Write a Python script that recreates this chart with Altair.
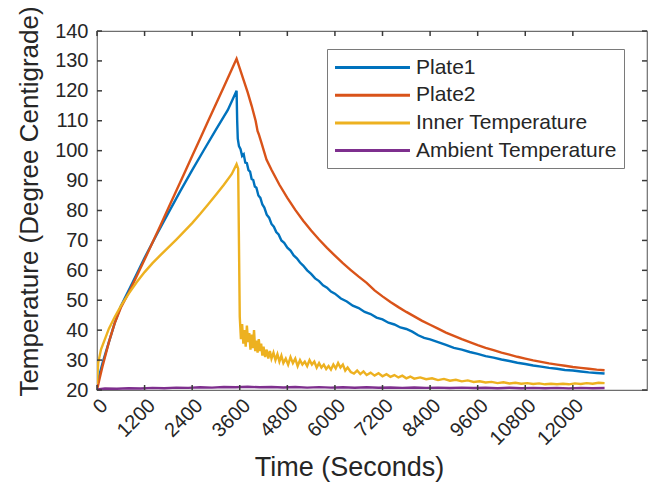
import altair as alt
import pandas as pd

# ---- series names and colours ----
series_names = ["Plate1", "Plate2", "Inner Temperature", "Ambient Temperature"]
series_colors = ["#0072BD", "#D95319", "#EDB120", "#7E2F8E"]

# ---- axis ticks ----
x_ticks = [0, 1200, 2400, 3600, 4800, 6000, 7200, 8400, 9600, 10800, 12000]
y_ticks = [20, 30, 40, 50, 60, 70, 80, 90, 100, 110, 120, 130, 140]
x_max = 13870

# ---- Plate1 (heating then cooling) ----
plate1_t = [0, 60, 150, 300, 450, 600, 900, 1200, 1500, 1800, 2100, 2400, 2700,
            3000, 3300, 3520,
            3535, 3550, 3580, 3620, 3660, 3700, 3740, 3780, 3820, 3860, 3900,
            3940, 3980, 4020, 4070, 4120, 4170, 4220, 4280, 4340, 4400, 4460,
            4520, 4580, 4650, 4720, 4800, 4880, 4960, 5040, 5120, 5200, 5300,
            5400, 5500, 5600, 5700, 5800, 5900, 6000, 6150, 6300, 6450, 6600,
            6750, 6900, 7050, 7200, 7350, 7500, 7650, 7800, 7950, 8100, 8250,
            8400, 8600, 8800, 9000, 9200, 9400, 9600, 9800, 10000, 10200, 10400,
            10600, 10800, 11000, 11200, 11400, 11600, 11800, 12000, 12200, 12400,
            12600, 12800]
plate1_v = [22, 25, 29.5, 36, 42.5, 48, 56, 64.2, 71.8, 79.2, 86.5, 93.5, 100.3,
            107, 113.6, 120,
            110, 104, 101.5, 100.5, 98.2, 98.8, 96, 95.8, 93.5, 93, 90.5,
            90.2, 88, 87.6, 85, 84.2, 82, 81, 78.6, 77.6, 75.5, 74.6,
            72.8, 72, 70, 69.2, 67.6, 66.6, 65, 64, 62.6, 61.6, 60,
            58.8, 57.3, 56.4, 55, 54.2, 52.9, 52.2, 50.6, 49.6, 48.2, 47.4,
            46.1, 45.4, 44.2, 43.6, 42.5, 41.9, 40.9, 40.4, 39.5, 38.3, 37.4,
            36.9, 36, 35.1, 34.1, 33.5, 32.7, 32.1, 31.3, 30.8, 30.2, 29.7,
            29.1, 28.7, 28.2, 27.8, 27.4, 27.1, 26.7, 26.5, 26.2, 25.9,
            25.7, 25.5]

# ---- Plate2 ----
plate2_t = [0, 60, 150, 300, 450, 600, 800, 1000, 1200, 1400, 1600, 1800, 2000,
            2200, 2400, 2600, 2800, 3000, 3200, 3400, 3520,
            3600, 3700, 3800, 3900, 4000, 4050, 4080, 4150, 4274, 4400, 4600,
            4800, 5000, 5200, 5400, 5600, 5800, 6000, 6200, 6400, 6600, 6800,
            7000, 7200, 7400, 7600, 7800, 8000, 8200, 8400, 8600, 8800, 9000,
            9200, 9400, 9600, 9800, 10000, 10200, 10400, 10600, 10800, 11000,
            11200, 11400, 11600, 11800, 12000, 12200, 12400, 12600, 12800]
plate2_v = [20, 23.5, 28.5, 36, 42.5, 47.5, 52.5, 58, 63.6, 69.3, 75, 80.8, 86.6,
            92.4, 98.2, 104, 109.8, 115.6, 121.4, 127.2, 130.7,
            127.5, 123.5, 119.5, 115, 110, 106.5, 105.5, 102.5, 97, 93.6, 88.6,
            84.2, 80.2, 76.6, 73.3, 70.3, 67.5, 64.9, 62.4, 60.1, 57.9, 55.8,
            53.3, 51.3, 49.4, 47.7, 46.1, 44.6, 43.1, 41.8, 40.5, 39.2, 38.1,
            37, 36, 35, 34.1, 33.3, 32.5, 31.8, 31.1, 30.5, 29.9,
            29.4, 28.9, 28.5, 28.1, 27.7, 27.4, 27.1, 26.8, 26.6]

# ---- Inner Temperature ----
inner_t = [0, 30, 100, 200, 300, 450, 600, 800, 1000, 1200, 1400, 1600, 1800,
           2000, 2200, 2400, 2600, 2800, 3000, 3200, 3400, 3520, 3560,
           3600, 3630, 3660, 3690, 3720, 3750, 3780, 3810, 3840, 3870, 3900,
           3930, 3960, 3990, 4020, 4050, 4080, 4110, 4140, 4170, 4200, 4240,
           4280, 4320, 4360, 4400, 4450, 4500, 4550, 4600, 4650, 4700, 4760,
           4820, 4880, 4940, 5000, 5060, 5120, 5180, 5240, 5300, 5360, 5420,
           5480, 5540, 5600, 5660, 5720, 5780, 5840, 5900, 5960, 6020, 6080,
           6140, 6200, 6260, 6320, 6400, 6480, 6560, 6640, 6720, 6800, 6900,
           7000, 7100, 7200, 7300, 7400, 7500, 7600, 7700, 7800, 7900, 8000,
           8150, 8300, 8450, 8600, 8750, 8900, 9050, 9200, 9350, 9500, 9650,
           9800, 9950, 10100, 10250, 10400, 10550, 10700, 10850, 11000, 11150,
           11300, 11450, 11600, 11750, 11900, 12050, 12200, 12350, 12500,
           12650, 12800]
inner_v = [22, 29, 33.5, 37, 40.5, 44.5, 48, 52.2, 56, 59.4, 62.4, 65.1, 67.7,
           70.3, 73, 75.8, 78.8, 82, 85.3, 88.6, 92.2, 95.5, 94,
           44.5, 37, 42, 35.5, 40, 34.5, 41.5, 36, 39, 33.5, 38.5,
           34, 40, 33, 36.5, 32.5, 37, 33, 35.5, 31.5, 34.5, 31,
           33.5, 30.5, 33, 30.5, 32.5, 30, 32, 29.5, 31.5, 29, 30.5,
           28.5, 31, 29, 30.5, 28, 30, 28.5, 29.5, 28, 30, 28.5,
           29.5, 27.5, 29, 27.5, 28.5, 27, 28, 26.8, 28.5, 27.2, 29,
           27.5, 28.5, 26.5, 27.5, 26, 25.5, 26.5, 25.3, 26.2, 25, 25.8,
           24.8, 25.6, 24.6, 25.3, 24.4, 25, 24.2, 24.8, 23.9, 24.5, 23.8,
           24.2, 23.6, 23.9, 23.3, 23.7, 23.1, 23.4, 22.9, 23.2, 22.7, 22.9,
           22.5, 22.7, 22.3, 22.6, 22.2, 22.4, 22.1, 22.3, 22, 22.2,
           21.9, 22.1, 21.9, 22.1, 21.9, 22.2, 22, 22.3, 22.1,
           22.4, 22.3]

# ---- Ambient Temperature ----
ambient_t = [0, 200, 500, 800, 1100, 1400, 1700, 2000, 2300, 2600, 2900, 3200,
             3500, 3800, 4100, 4400, 4700, 5000, 5300, 5600, 5900, 6200, 6500,
             6800, 7100, 7400, 7700, 8000, 8300, 8600, 8900, 9200, 9500, 9800,
             10100, 10400, 10700, 11000, 11300, 11600, 11900, 12200, 12500, 12800]
ambient_v = [20.2, 20.5, 20.4, 20.6, 20.5, 20.7, 20.6, 20.8, 20.7, 20.9, 20.8, 21,
             20.9, 21.1, 20.9, 21.0, 20.85, 21, 20.8, 20.95, 20.8, 20.9, 20.75,
             20.9, 20.75, 20.85, 20.7, 20.85, 20.7, 20.8, 20.65, 20.8, 20.65, 20.75,
             20.6, 20.75, 20.6, 20.7, 20.6, 20.7, 20.55, 20.7, 20.6, 20.65]

series_data = [(plate1_t, plate1_v), (plate2_t, plate2_v),
               (inner_t, inner_v), (ambient_t, ambient_v)]

frames = []
for name, (ts, vs) in zip(series_names, series_data):
    frames.append(pd.DataFrame({"time": ts, "temp": vs, "series": name}))
lines_df = pd.concat(frames, ignore_index=True)

FONT = "Liberation Sans"
TEXT = "#262626"
FRAME = "#6e6e6e"
TICK = "#3a3a3a"

x_scale = alt.Scale(domain=[0, x_max], nice=False, zero=False)
y_scale = alt.Scale(domain=[20, 140], nice=False, zero=False)
color_scale = alt.Scale(domain=series_names, range=series_colors)

# legend swatch: a long horizontal stroke drawn as a custom symbol path
legend_swatch = "M-3.57,0H3.57"

lines = alt.Chart(lines_df).mark_line(clip=True, strokeWidth=2.4).encode(
    x=alt.X("time:Q", scale=x_scale,
            axis=alt.Axis(values=x_ticks, format="d", title="Time (Seconds)",
                          labelAngle=-45, labelAlign="right", labelBaseline="top",
                          labelPadding=5, labelFontSize=20, labelOverlap=False,
                          labelFlush=False, ticks=False, domain=False, grid=False,
                          titleFontSize=27, titleFontWeight="normal",
                          titleX=252, titleY=64, titleBaseline="top")),
    y=alt.Y("temp:Q", scale=y_scale,
            axis=alt.Axis(values=y_ticks, format="d",
                          title="Temperature (Degree Centigrade)",
                          labelFontSize=20, labelPadding=9, labelOverlap=False,
                          labelSeparation=0, labelFlush=False, ticks=False,
                          domain=False, grid=False, titleFontSize=26,
                          titleFontWeight="normal", titleX=-68, titleY=170,
                          titleBaseline="middle")),
    color=alt.Color("series:N", scale=color_scale,
                    legend=alt.Legend(orient="none", legendX=230, legendY=18,
                                      title=None, direction="vertical",
                                      symbolType=legend_swatch, symbolSize=441,
                                      symbolStrokeWidth=3, symbolOffset=27,
                                      labelFontSize=21, labelFont=FONT,
                                      labelColor=TEXT, labelOffset=31.5,
                                      labelLimit=400, rowPadding=5.7, padding=6.5,
                                      strokeColor="#7a7a7a", fillColor="white",
                                      cornerRadius=0)),
    detail="series:N",
    order=alt.Order("time:Q"),
)

# inward tick marks on all four sides of the box (about 5 px long)
xt_len = 126
yt_len = 1.67
xtick_rows = []
for t in x_ticks:
    xtick_rows.append({"tx": t, "ty0": 20, "ty1": 20 + yt_len})
    xtick_rows.append({"tx": t, "ty0": 140, "ty1": 140 - yt_len})
ytick_rows = []
for v in y_ticks:
    ytick_rows.append({"ty": v, "tx0": 0, "tx1": xt_len})
    ytick_rows.append({"ty": v, "tx0": x_max, "tx1": x_max - xt_len})

xticks = alt.Chart(pd.DataFrame(xtick_rows)).mark_rule(
    color=TICK, strokeWidth=1.5
).encode(
    x=alt.X("tx:Q", scale=x_scale, axis=None),
    y=alt.Y("ty0:Q", scale=y_scale, axis=None),
    y2="ty1:Q",
)
yticks = alt.Chart(pd.DataFrame(ytick_rows)).mark_rule(
    color=TICK, strokeWidth=1.5
).encode(
    y=alt.Y("ty:Q", scale=y_scale, axis=None),
    x=alt.X("tx0:Q", scale=x_scale, axis=None),
    x2="tx1:Q",
)

chart = alt.layer(lines, xticks, yticks).resolve_axis(
    x="independent", y="independent"
).properties(
    width=550, height=359,
    autosize=alt.AutoSizeParams(type="none"),
    padding={"left": 97, "top": 31, "right": 3, "bottom": 106},
    background="white",
).configure_view(
    stroke=FRAME, strokeWidth=1.2
).configure_axis(
    labelFont=FONT, titleFont=FONT, labelColor=TEXT, titleColor=TEXT
)

chart.save("out.html", embed_options={"renderer": "svg", "actions": False})
